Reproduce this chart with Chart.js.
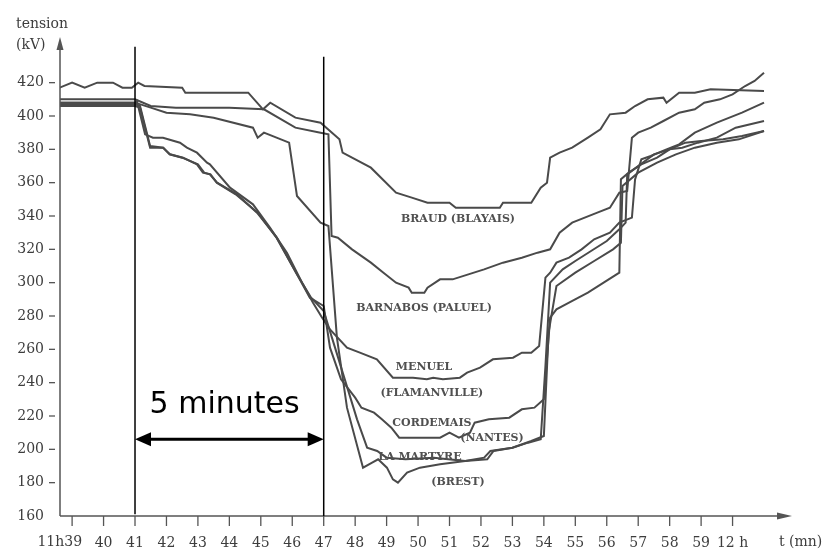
<!DOCTYPE html>
<html><head><meta charset="utf-8">
<script src="https://cdn.jsdelivr.net/npm/chart.js@4/dist/chart.umd.min.js"></script>
<style>html,body{margin:0;padding:0;background:#fff}canvas{display:block}</style>
</head><body>
<canvas id="c" width="832" height="552"></canvas>
<script>
// ---------- data ----------
const xTickValues = [39,40,41,42,43,44,45,46,47,48,49,50,51,52,53,54,55,56,57,58,59,60];
const xTickLabels = ["11h39","40","41","42","43","44","45","46","47","48","49","50","51","52","53","54","55","56","57","58","59","12 h"];
const yTickValues = [160,180,200,220,240,260,280,300,320,340,360,380,400,420];

const braudT = [38.6,39.0,39.4,39.8,40.3,40.6,40.9,41.1,41.3,42.5,42.6,44.6,45.07,45.3,46.1,46.9,47.5,47.6,48.5,49.3,49.8,50.3,51.0,51.2,52.6,52.7,53.6,53.9,54.1,54.2,54.5,54.9,55.4,55.8,56.1,56.6,56.9,57.3,57.8,57.9,58.3,58.8,59.3,61.0];
const braudV = [417,420,417,420,420,417,417,420,418,417,414,414,404,408,399,396,386,378,369,354,351,348,348,345,345,348,348,357,360,375,378,381,387,392,401,402,406,410,411,408,414,414,416,415];

const barnabosT = [38.6,41.0,41.5,42.3,44.0,45.1,46.1,46.9,47.15,47.25,47.45,47.9,48.5,48.9,49.3,49.7,49.8,50.2,50.3,50.7,51.1,51.6,52.1,52.7,53.3,53.8,54.2,54.5,54.9,55.7,56.1,56.4,56.65,56.8,57.0,57.4,57.8,58.3,58.8,59.1,59.6,60.0,60.4,60.7,61.0];
const barnabosV = [410,410,406,405,405,404,393,390,389,328,327,320,312,306,300,297,294,294,297,302,302,305,308,312,315,318,320,330,336,342,345,354,355,387,390,393,397,402,404,408,410,413,418,421,426];

const menuelT = [38.6,41.0,41.06,41.32,41.57,41.89,42.43,42.65,42.97,43.29,43.38,44.02,44.75,45.29,45.83,46.34,46.66,46.95,47.2,47.74,48.15,48.69,49.2,49.84,50.28,50.48,50.79,51.33,51.56,51.97,52.38,53.02,53.3,53.6,53.85,54.05,54.2,54.4,54.8,55.2,55.6,56.1,56.4,56.8,56.9,57.1,57.4,57.9,58.3,58.8,59.5,60.3,61.0];
const menuelV = [408,408,409,389,387,387,384,381,378,372,371,357,347,333,318,299,288,279,272,261,258,254,243,243,242,243,242,243,246,249,254,255,258,258,262,303,306,312,315,320,326,330,336,339,362,374,376,380,383,390,396,402,408];

const cordemaisT = [38.6,41.0,41.16,41.48,41.89,42.11,42.53,42.97,43.16,43.38,43.61,44.24,44.88,45.51,46.15,46.56,47.0,47.2,47.55,48.0,48.2,48.6,48.85,49.15,49.4,50.7,51.0,51.3,51.65,51.8,52.25,52.9,53.3,53.7,54.0,54.2,54.4,54.8,55.4,55.9,56.4,56.45,56.7,57.1,57.6,58.0,58.4,58.9,59.5,60.1,61.0];
const cordemaisV = [406,406,405,381,381,377,375,371,366,365,360,353,342,327,305,291,286,261,242,231,225,222,218,213,207,207,210,207,210,216,218,219,224,225,230,279,284,288,294,300,306,362,366,371,375,380,381,384,387,393,397];

const martyreT = [38.6,41.0,41.5,42.0,42.75,43.5,44.75,44.9,45.1,45.9,46.15,46.9,47.15,47.42,47.74,48.25,48.54,48.73,49.01,49.2,49.36,49.65,50.06,50.7,51.5,52.1,52.3,53.0,53.5,53.9,54.05,54.2,54.6,55.0,55.5,56.0,56.4,56.6,56.65,57.0,57.5,58.0,58.5,59.0,59.7,60.3,61.0];
const martyreV = [408,408,405,402,401,399,393,387,390,384,352,336,334,267,225,189,192,194,189,182,180,186,189,191,193,195,199,201,204,206,250,300,308,313,319,325,332,336,365,370,377,380,384,385,386,388,391];

const sixthT = [38.6,41.0,41.16,41.48,41.9,42.1,42.5,43.0,43.2,43.4,43.6,44.2,44.9,45.5,46.15,46.6,47.0,47.36,48.06,48.38,48.7,49.0,49.6,50.5,51.5,52.2,52.4,53.0,53.6,54.0,54.15,54.4,55.0,55.6,56.2,56.45,56.5,57.0,57.6,58.2,58.8,59.5,60.2,61.0];
const sixthV = [407,407,406,382,381,377,375,371,366,365,360,353,342,327,305,291,283,261,218,201,199,195,194,195,193,194,199,201,205,208,270,298,306,313,320,324,358,366,372,377,381,384,386,391];

// ---------- build ----------
function pts(t, v) { return t.map((x, i) => ({ x: x, y: v[i] })); }
const series = [
  ["BRAUD (BLAYAIS)", braudT, braudV],
  ["BARNABOS (PALUEL)", barnabosT, barnabosV],
  ["MENUEL (FLAMANVILLE)", menuelT, menuelV],
  ["CORDEMAIS (NANTES)", cordemaisT, cordemaisV],
  ["LA MARTYRE (BREST)", martyreT, martyreV],
  ["", sixthT, sixthV]
];
const LINE = '#4a4a4a';
const datasets = series.map(s => ({
  label: s[0], data: pts(s[1], s[2]),
  borderColor: LINE, borderWidth: 2, pointRadius: 0, tension: 0, fill: false
}));

const SERIF = '"DejaVu Serif", "Liberation Serif", serif';

const decor = {
  id: 'decor',
  afterDraw(chart, args, opts) {
    const ctx = chart.ctx, xs = chart.scales.x, ys = chart.scales.y, ca = chart.chartArea;
    ctx.save();
    // axes
    ctx.strokeStyle = '#555'; ctx.fillStyle = '#555'; ctx.lineWidth = 1.5;
    ctx.beginPath(); ctx.moveTo(ca.left, ca.bottom); ctx.lineTo(ca.left, ca.top + 8); ctx.stroke();
    ctx.beginPath(); ctx.moveTo(ca.left, ca.top); ctx.lineTo(ca.left - 3.5, ca.top + 13); ctx.lineTo(ca.left + 3.5, ca.top + 13); ctx.closePath(); ctx.fill();
    ctx.beginPath(); ctx.moveTo(ca.left, ca.bottom); ctx.lineTo(ca.right - 8, ca.bottom); ctx.stroke();
    ctx.beginPath(); ctx.moveTo(ca.right, ca.bottom); ctx.lineTo(ca.right - 15, ca.bottom - 3.5); ctx.lineTo(ca.right - 15, ca.bottom + 3.5); ctx.closePath(); ctx.fill();
    // tick marks
    ctx.lineWidth = 1.3;
    yTickValues.forEach(v => { if (v === 160) return; const y = ys.getPixelForValue(v);
      ctx.beginPath(); ctx.moveTo(ca.left - 11, y); ctx.lineTo(ca.left - 5, y); ctx.stroke(); });
    xTickValues.forEach(t => { const x = xs.getPixelForValue(t);
      ctx.beginPath(); ctx.moveTo(x, ca.bottom); ctx.lineTo(x, ca.bottom + 10); ctx.stroke(); });
    // first x label (shifted left as in the original) and axis titles
    ctx.fillStyle = '#3d3d3d'; ctx.font = '14px ' + SERIF; ctx.textBaseline = 'middle'; ctx.textAlign = 'right';
    ctx.fillText(xTickLabels[0], xs.getPixelForValue(xTickValues[0]) + 10, ca.bottom + 26);
    ctx.textAlign = 'left';
    ctx.fillText('tension', 16, 24);
    ctx.fillText('(kV)', 16, 45);
    ctx.fillText('t (mn)', 779, 542);
    // station labels
    ctx.fillStyle = '#505050'; ctx.font = 'bold 11px ' + SERIF; ctx.textAlign = 'center';
    opts.labels.forEach(l => ctx.fillText(l.text, xs.getPixelForValue(l.t), ys.getPixelForValue(l.v)));
    // reference verticals
    ctx.strokeStyle = '#000'; ctx.lineWidth = 1.5;
    opts.verticals.forEach(vl => { const x = xs.getPixelForValue(vl.t);
      ctx.beginPath(); ctx.moveTo(x, ys.getPixelForValue(vl.from)); ctx.lineTo(x, ys.getPixelForValue(vl.to)); ctx.stroke(); });
    // double arrow
    const a = opts.arrow;
    const x1 = xs.getPixelForValue(a.t1), x2 = xs.getPixelForValue(a.t2), ya = ys.getPixelForValue(a.v);
    ctx.lineWidth = 3; ctx.fillStyle = '#000';
    ctx.beginPath(); ctx.moveTo(x1 + 10, ya); ctx.lineTo(x2 - 10, ya); ctx.stroke();
    ctx.beginPath(); ctx.moveTo(x1, ya); ctx.lineTo(x1 + 16, ya - 7); ctx.lineTo(x1 + 16, ya + 7); ctx.closePath(); ctx.fill();
    ctx.beginPath(); ctx.moveTo(x2, ya); ctx.lineTo(x2 - 16, ya - 7); ctx.lineTo(x2 - 16, ya + 7); ctx.closePath(); ctx.fill();
    ctx.font = '30px "Comic Sans MS", "DejaVu Sans", sans-serif'; ctx.textAlign = 'center'; ctx.textBaseline = 'middle';
    ctx.fillText(a.text, xs.getPixelForValue(a.textT), ys.getPixelForValue(a.textV));
    ctx.restore();
  }
};

new Chart(document.getElementById('c'), {
  type: 'line',
  data: { datasets },
  options: {
    responsive: false, animation: false, devicePixelRatio: 1,
    layout: { padding: { left: 0, top: 37, right: 40, bottom: 0 } },
    plugins: {
      legend: { display: false }, tooltip: { enabled: false },
      decor: {
        labels: [
          { text: 'BRAUD (BLAYAIS)', t: 51.27, v: 338.2 },
          { text: 'BARNABOS (PALUEL)', t: 50.19, v: 284.8 },
          { text: 'MENUEL', t: 50.19, v: 249.4 },
          { text: '(FLAMANVILLE)', t: 50.44, v: 233.8 },
          { text: 'CORDEMAIS', t: 50.44, v: 215.8 },
          { text: '(NANTES)', t: 52.35, v: 206.8 },
          { text: 'LA MARTYRE', t: 50.06, v: 195.4 },
          { text: '(BREST)', t: 51.27, v: 180.4 }
        ],
        verticals: [ { t: 41, from: 161, to: 441.5 }, { t: 47, from: 160, to: 435.5 } ],
        arrow: { t1: 41, t2: 47, v: 206, text: '5 minutes', textT: 43.85, textV: 226.5 }
      }
    },
    scales: {
      x: {
        type: 'linear', min: 38.615, max: 61.89,
        afterFit: s => { s.height = 36; },
        afterBuildTicks: s => { s.ticks = xTickValues.map(v => ({ value: v })); },
        grid: { display: false, drawTicks: false }, border: { display: false },
        ticks: { autoSkip: false, maxRotation: 0, padding: 19, color: '#3d3d3d', font: { family: SERIF, size: 14 },
          callback: (v) => { const i = xTickValues.indexOf(v); return i > 0 ? xTickLabels[i] : ''; } }
      },
      y: {
        type: 'linear', min: 160, max: 447.4,
        afterFit: s => { s.width = 60; },
        afterBuildTicks: s => { s.ticks = yTickValues.map(v => ({ value: v })); },
        grid: { display: false, drawTicks: false }, border: { display: false },
        ticks: { padding: 16, color: '#3d3d3d', font: { family: SERIF, size: 14 } }
      }
    }
  },
  plugins: [decor]
});
</script>
</body></html>
